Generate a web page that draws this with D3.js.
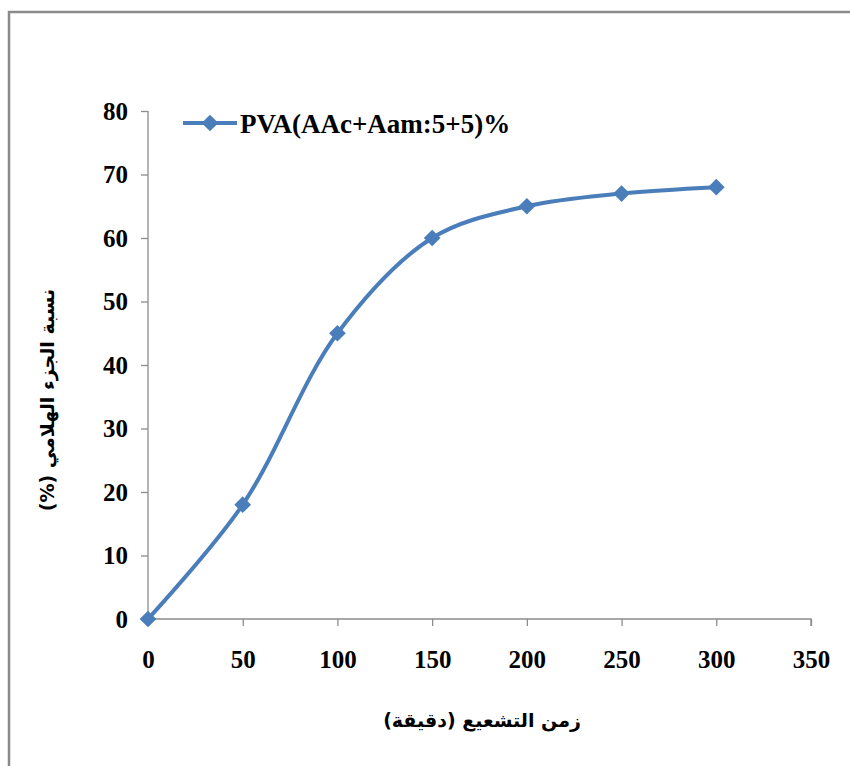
<!DOCTYPE html>
<html>
<head>
<meta charset="utf-8">
<script src="https://cdn.jsdelivr.net/npm/d3@7"></script>
<style>
  body { margin: 0; background: #fff; }
  text { font-family: "Liberation Serif", "Times New Roman", serif; font-weight: bold; fill: #000; }
  .ar { font-family: "DejaVu Sans", sans-serif; }
</style>
</head>
<body>
<svg id="chart"></svg>
<script>
const times = [0, 50, 100, 150, 200, 250, 300];
const gelFraction = [0, 18, 45, 60, 65, 67, 68];
const xTicks = [0, 50, 100, 150, 200, 250, 300, 350];
const yTicks = [0, 10, 20, 30, 40, 50, 60, 70, 80];
const seriesName = "PVA(AAc+Aam:5+5)%";
const xTitle = "زمن التشعيع (دقيقة)";
const yTitle = "نسبة الجزء الهلامي (%)";

const chartSize = { width: 850, height: 766 };
const margin = { left: 148, top: 111, right: 39, bottom: 147 };
const width = chartSize.width - margin.left - margin.right;
const height = chartSize.height - margin.top - margin.bottom;
const blue = "#4a7ebb";
const axisGrey = "#8c8c8c";

const svg = d3.select("#chart")
  .attr("width", chartSize.width)
  .attr("height", chartSize.height);

svg.append("rect")
  .attr("x", 9).attr("y", 12)
  .attr("width", 900).attr("height", 800)
  .attr("fill", "#fff")
  .attr("stroke", "#8a8a8a")
  .attr("stroke-width", 2.5);

const g = svg.append("g")
  .attr("transform", `translate(${margin.left},${margin.top})`);

const x = d3.scaleLinear().domain([0, 350]).range([0, width]);
const y = d3.scaleLinear().domain([0, 80]).range([height, 0]);

const yAxis = g.append("g")
  .call(d3.axisLeft(y).tickValues(yTicks).tickSizeInner(7).tickSizeOuter(7).tickPadding(13));
const xAxis = g.append("g")
  .attr("transform", `translate(0,${height})`)
  .call(d3.axisBottom(x).tickValues(xTicks).tickSizeInner(7).tickSizeOuter(7).tickPadding(24));

[xAxis, yAxis].forEach(a => {
  a.selectAll("path, line").attr("stroke", axisGrey).attr("stroke-width", 1.3);
  a.selectAll("text")
    .attr("fill", "#000")
    .style("font-family", "'Liberation Serif', serif")
    .style("font-weight", "bold")
    .style("font-size", "25px");
});
xAxis.select(".domain").attr("d", `M0,7V0H${width}V7`);
yAxis.select(".domain").attr("d", `M0,0V${height}`);

const points = times.map((t, i) => [t, gelFraction[i]]);

const line = d3.line()
  .x(d => x(d[0]))
  .y(d => y(d[1]))
  .curve(d3.curveCatmullRom.alpha(0.5));

g.append("path")
  .datum(points)
  .attr("fill", "none")
  .attr("stroke", blue)
  .attr("stroke-width", 4)
  .attr("d", line);

const diamond = d3.symbol().type(d3.symbolSquare).size(140);

g.selectAll(".marker")
  .data(points)
  .join("path")
  .attr("class", "marker")
  .attr("d", diamond)
  .attr("fill", blue)
  .attr("transform", d => `translate(${x(d[0])},${y(d[1])}) rotate(45)`);

// legend
const legend = svg.append("g").attr("transform", "translate(183,123)");
legend.append("line")
  .attr("x1", 0).attr("x2", 54)
  .attr("stroke", blue).attr("stroke-width", 4);
legend.append("path")
  .attr("d", diamond)
  .attr("fill", blue)
  .attr("transform", "translate(27,0) rotate(45)");
legend.append("text")
  .attr("x", 57).attr("y", 10)
  .style("font-family", "'Liberation Serif', serif")
  .style("font-weight", "bold")
  .style("font-size", "27px")
  .text(seriesName);

// axis titles
svg.append("text")
  .attr("class", "ar")
  .attr("x", 482).attr("y", 727)
  .attr("text-anchor", "middle")
  .attr("direction", "rtl")
  .style("font-size", "19px")
  .text(xTitle);

svg.append("text")
  .attr("class", "ar")
  .attr("transform", "translate(54,400) rotate(-90)")
  .attr("text-anchor", "middle")
  .attr("direction", "rtl")
  .style("font-size", "19px")
  .text(yTitle);
</script>
</body>
</html>
